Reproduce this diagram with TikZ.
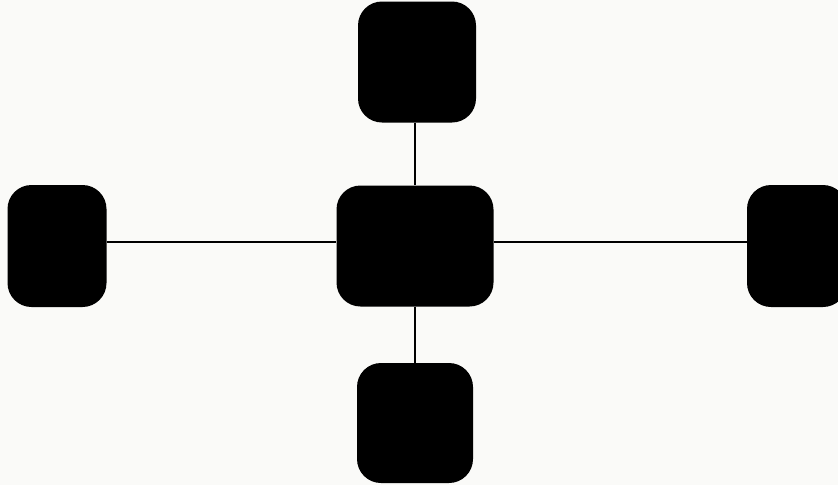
\documentclass[tikz,border=0pt]{standalone}
\begin{document}
\begin{tikzpicture}[x=1pt,y=-1pt,
  blk/.style={draw=none,fill=black,rounded corners=24pt,inner sep=0pt,rectangle},
  link/.style={line width=2.6pt,black}]
\definecolor{paper}{HTML}{FAFAF8}
\fill[paper] (0,0) rectangle (838,485);
\useasboundingbox (0,0) rectangle (838,485);
\node[blk,minimum width=118pt,minimum height=121pt] (top) at (417,62) {};
\node[blk,minimum width=157pt,minimum height=121pt] (mid) at (415,246) {};
\node[blk,minimum width=99pt,minimum height=122pt] (lft) at (57,246) {};
\node[blk,minimum width=100pt,minimum height=122pt] (rgt) at (797,246) {};
\node[blk,minimum width=116pt,minimum height=120pt] (bot) at (415,423) {};
\coordinate (hl) at (0,242);
\coordinate (vl) at (415,0);
\draw[link] (lft.east |- hl) -- (mid.west |- hl);
\draw[link] (mid.east |- hl) -- (rgt.west |- hl);
\draw[link] (top.south -| vl) -- (mid.north -| vl);
\draw[link] (mid.south -| vl) -- (bot.north -| vl);
\end{tikzpicture}
\end{document}
